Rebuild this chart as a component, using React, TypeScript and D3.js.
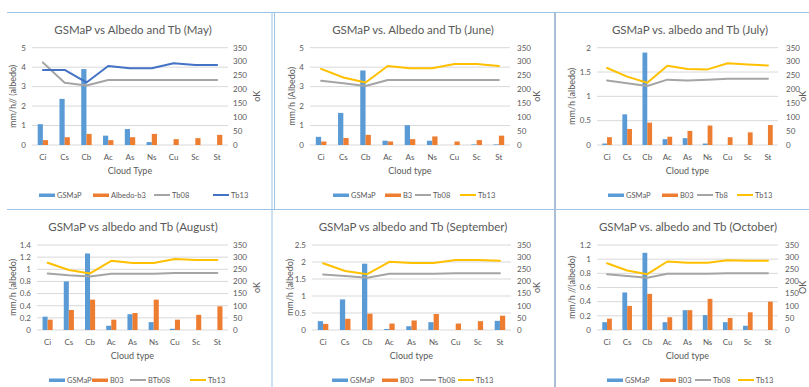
import React from 'react';
import * as d3 from 'd3';

const categories = ['Ci', 'Cs', 'Cb', 'Ac', 'As', 'Ns', 'Cu', 'Sc', 'St'];

const titles = [
  'GSMaP vs Albedo and Tb (May)',
  'GSMaP vs. Albedo and Tb (June)',
  'GSMaP vs. albedo and Tb (July)',
  'GSMaP vs albedo and Tb (August)',
  'GSMaP vs albedo and Tb (September)',
  'GSMaP vs. albedo and Tb (October)',
];
const leftAxisTitles = ['mm/h// (albedo)', 'mm/h (Albedo)', 'mm/h (albedo)', 'mm/h (albedo)', 'mm/h (albedo)', 'mm/h //(albedo)'];
const rightAxisTitles = ['oK', 'oK', 'oK', 'oK', 'oK', 'OK'];
const xAxisTitles = ['Cloud Type', 'Cloud type', 'Cloud type', 'Cloud type', 'Cloud type', 'Cloud type'];
const legendNames = [
  ['GSMaP', 'Albedo-b3', 'Tb08', 'Tb13'],
  ['GSMaP', 'B3', 'Tb08', 'Tb13'],
  ['GSMaP', 'B03', 'Tb8', 'Tb13'],
  ['GSMaP', 'B03', 'BTb08', 'Tb13'],
  ['GSMaP', 'B03', 'Tb08', 'Tb13'],
  ['GSMaP', 'B03', 'Tb08', 'Tb13'],
];
const leftMax = [5, 5, 2, 1.4, 2.5, 1.2];
const leftStep = [1, 1, 0.5, 0.2, 0.5, 0.2];
const rightTicks = [0, 50, 100, 150, 200, 250, 300, 350];

// May
const mayGsmap = [1.07, 2.37, 3.9, 0.48, 0.82, 0.15, 0, 0, 0];
const mayAlbedo = [0.25, 0.4, 0.57, 0.25, 0.4, 0.57, 0.3, 0.35, 0.52];
const mayTb08 = [297, 224, 214, 234, 234, 234, 234, 234, 234];
const mayTb13 = [270, 270, 225, 284, 276, 276, 294, 288, 288];
// June
const junGsmap = [0.42, 1.65, 3.83, 0.22, 1.02, 0.22, 0, 0.03, 0.03];
const junAlbedo = [0.18, 0.36, 0.52, 0.18, 0.3, 0.44, 0.18, 0.25, 0.48];
const junTb08 = [231, 222, 212, 234, 234, 234, 234, 234, 234];
const junTb13 = [274, 243, 225, 284, 276, 276, 291, 291, 284];
// July
const julGsmap = [0.03, 0.63, 1.9, 0.12, 0.14, 0.03, 0, 0, 0];
const julAlbedo = [0.16, 0.33, 0.46, 0.17, 0.29, 0.4, 0.16, 0.26, 0.41];
const julTb08 = [232, 222, 212, 235, 232, 235, 238, 238, 238];
const julTb13 = [277, 246, 224, 285, 273, 272, 294, 290, 286];
// August
const augGsmap = [0.22, 0.8, 1.26, 0.07, 0.26, 0.13, 0.02, 0, 0];
const augAlbedo = [0.17, 0.33, 0.5, 0.17, 0.28, 0.5, 0.17, 0.25, 0.39];
const augTb08 = [233, 225, 220, 232, 232, 232, 235, 235, 235];
const augTb13 = [277, 247, 233, 285, 276, 276, 292, 288, 288];
// September
const sepGsmap = [0.26, 0.9, 1.95, 0.03, 0.11, 0.23, 0, 0, 0.27];
const sepAlbedo = [0.18, 0.33, 0.48, 0.19, 0.28, 0.47, 0.19, 0.26, 0.42];
const sepTb08 = [229, 222, 215, 232, 232, 232, 234, 234, 234];
const sepTb13 = [275, 243, 230, 281, 276, 276, 288, 288, 285];
// October
const octGsmap = [0.11, 0.53, 1.09, 0.11, 0.28, 0.21, 0.11, 0.06, 0];
const octAlbedo = [0.16, 0.34, 0.51, 0.18, 0.28, 0.44, 0.17, 0.25, 0.4];
const octTb08 = [230, 222, 215, 232, 232, 232, 234, 234, 234];
const octTb13 = [275, 245, 230, 282, 277, 277, 287, 285, 285];

const gsmapSeries = [mayGsmap, junGsmap, julGsmap, augGsmap, sepGsmap, octGsmap];
const albedoSeries = [mayAlbedo, junAlbedo, julAlbedo, augAlbedo, sepAlbedo, octAlbedo];
const tb08Series = [mayTb08, junTb08, julTb08, augTb08, sepTb08, octTb08];
const tb13Series = [mayTb13, junTb13, julTb13, augTb13, sepTb13, octTb13];

// layout (positions only)
const layouts = [
  { x0: 32, x1: 228, yT: 47.7, yB: 145, lt: 13, rt: 257, rl: 233, cx: 133, ty: 34, legY: 195, leg: [39, 93, 154, 213] },
  { x0: 310, x1: 510, yT: 47.7, yB: 145, lt: 292, rt: 537, rl: 517, cx: 413, ty: 34, legY: 195, leg: [333, 385, 415, 460] },
  { x0: 597, x1: 778, yT: 47.7, yB: 145, lt: 572, rt: 803, rl: 786, cx: 690, ty: 34, legY: 195, leg: [608, 662, 697, 737] },
  { x0: 37, x1: 228, yT: 245, yB: 330, lt: 13, rt: 257, rl: 233, cx: 133, ty: 231, legY: 380, leg: [49, 92, 130, 190] },
  { x0: 312, x1: 511, yT: 245, yB: 330, lt: 290, rt: 537, rl: 517, cx: 413, ty: 231, legY: 380, leg: [332, 382, 420, 458] },
  { x0: 597, x1: 778, yT: 245, yB: 330, lt: 572, rt: 803, rl: 785, cx: 688, ty: 231, legY: 380, leg: [607, 660, 695, 738] },
];

const BLUE = '#5b9bd5';
const ORANGE = '#ed7d31';
const GREY = '#a5a5a5';
const YELLOW = '#ffc000';
const DARKBLUE = '#4472c4';
const TEXT = '#595959';
const FONT = 'Lato, "Open Sans", sans-serif';

function Panel({ i }: { i: number }) {
  const L = layouts[i];
  const x = d3.scaleBand<string>().domain(categories).range([L.x0, L.x1]).paddingInner(0).paddingOuter(0);
  const yL = d3.scaleLinear().domain([0, leftMax[i]]).range([L.yB, L.yT]);
  const yR = d3.scaleLinear().domain([0, 350]).range([L.yB, L.yT]);
  const bw = x.bandwidth() / 4.19;
  const leftTicks = d3.range(0, leftMax[i] + leftStep[i] / 2, leftStep[i]);
  const fmt = (v: number) => String(Math.round(v * 10) / 10);
  const line = (vals: number[]) =>
    d3.line<number>().x((_, k) => (x(categories[k]) as number) + x.bandwidth() / 2).y((v) => yR(v))(vals) as string;
  const tb13Color = i === 0 ? DARKBLUE : YELLOW;
  const midY = (L.yT + L.yB) / 2;
  const names = legendNames[i];
  const lf = 7.5;
  return (
    <g fontFamily={FONT}>
      <text x={L.cx} y={L.ty} textAnchor="middle" fontSize={11.5} fill={TEXT}>{titles[i]}</text>
      {leftTicks.map((t) => (
        <line key={'g' + t} x1={L.x0} x2={L.x1} y1={yL(t)} y2={yL(t)} stroke="#d9d9d9" strokeWidth={1} />
      ))}
      {leftTicks.map((t) => (
        <text key={'l' + t} x={L.x0 - 6} y={yL(t)} dy="0.35em" textAnchor="end" fontSize={8} fill={TEXT}>{fmt(t)}</text>
      ))}
      {rightTicks.map((t) => (
        <text key={'r' + t} x={L.rl} y={yR(t)} dy="0.35em" textAnchor="start" fontSize={8} fill={TEXT}>{t}</text>
      ))}
      {categories.map((c, k) => {
        const cxp = (x(c) as number) + x.bandwidth() / 2;
        const g = gsmapSeries[i][k];
        const a = albedoSeries[i][k];
        return (
          <g key={c}>
            <rect x={cxp - bw} y={yL(g)} width={bw} height={L.yB - yL(g)} fill={BLUE} />
            <rect x={cxp} y={yL(a)} width={bw} height={L.yB - yL(a)} fill={ORANGE} />
            <text x={cxp} y={L.yB + 11.7} dy="0.35em" textAnchor="middle" fontSize={8} fill={TEXT}>{c}</text>
          </g>
        );
      })}
      <path d={line(tb08Series[i])} fill="none" stroke={GREY} strokeWidth={2} strokeLinejoin="round" strokeLinecap="round" />
      <path d={line(tb13Series[i])} fill="none" stroke={tb13Color} strokeWidth={2} strokeLinejoin="round" strokeLinecap="round" />
      <text x={(L.x0 + L.x1) / 2} y={L.yB + 25.7} dy="0.35em" textAnchor="middle" fontSize={9} fill={TEXT}>{xAxisTitles[i]}</text>
      <text transform={`translate(${L.lt},${midY}) rotate(-90)`} dy="0.35em" textAnchor="middle" fontSize={9} fill={TEXT}>{leftAxisTitles[i]}</text>
      <text transform={`translate(${L.rt},${midY}) rotate(-90)`} dy="0.35em" textAnchor="middle" fontSize={9} fill={TEXT}>{rightAxisTitles[i]}</text>
      <rect x={L.leg[0]} y={L.legY - 1.5} width={16} height={3.5} fill={BLUE} />
      <text x={L.leg[0] + 18} y={L.legY} dy="0.35em" fontSize={lf} fill={TEXT}>{names[0]}</text>
      <rect x={L.leg[1]} y={L.legY - 1.5} width={16} height={3.5} fill={ORANGE} />
      <text x={L.leg[1] + 18} y={L.legY} dy="0.35em" fontSize={lf} fill={TEXT}>{names[1]}</text>
      <line x1={L.leg[2]} x2={L.leg[2] + 16} y1={L.legY} y2={L.legY} stroke={GREY} strokeWidth={2} />
      <text x={L.leg[2] + 18} y={L.legY} dy="0.35em" fontSize={lf} fill={TEXT}>{names[2]}</text>
      <line x1={L.leg[3]} x2={L.leg[3] + 16} y1={L.legY} y2={L.legY} stroke={tb13Color} strokeWidth={2} />
      <text x={L.leg[3] + 18} y={L.legY} dy="0.35em" fontSize={lf} fill={TEXT}>{names[3]}</text>
    </g>
  );
}

export default function App() {
  return (
    <svg width={809} height={387} style={{ position: 'absolute', left: 0, top: 0, background: '#fff' }}>
      <rect x={0} y={0} width={809} height={387} fill="#fff" />
      {layouts.map((_, i) => (
        <Panel key={i} i={i} />
      ))}
      <line x1={7} x2={809} y1={12.5} y2={12.5} stroke="#9dc3e6" strokeWidth={1} />
      <line x1={7} x2={809} y1={209.5} y2={209.5} stroke="#9dc3e6" strokeWidth={1} />
      <line x1={272} x2={272} y1={12} y2={387} stroke="#9dc3e6" strokeWidth={1} />
      <line x1={274.5} x2={274.5} y1={12} y2={209} stroke="#9dc3e6" strokeWidth={1} />
      <line x1={555} x2={555} y1={12} y2={387} stroke="#a9bfd6" strokeWidth={2} />
    </svg>
  );
}
